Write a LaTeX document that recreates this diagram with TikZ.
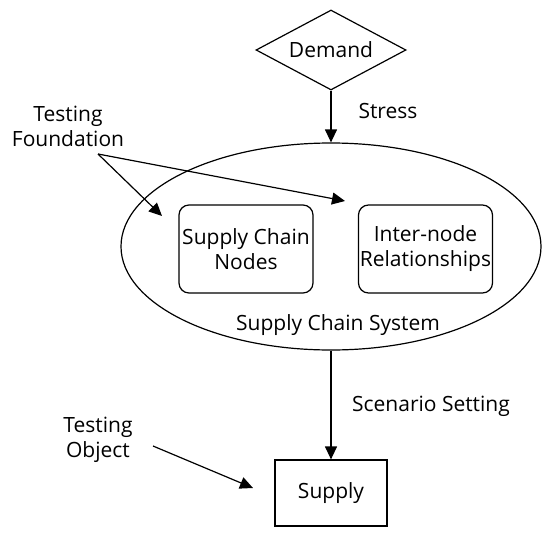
\documentclass[tikz,border=0pt]{standalone}
\usepackage{fontspec}
\setmainfont{Open Sans}
\usetikzlibrary{shapes.geometric,arrows.meta}
\begin{document}
\begin{tikzpicture}[x=1pt,y=-1pt,line width=1.2pt,
  txt/.style={font=\fontsize{21}{25}\selectfont},
  lbl/.style={txt,inner sep=0pt,align=center},
  arr/.style={-{Triangle[length=13pt,width=12pt]}},
  rbox/.style={draw,rounded corners=10pt,minimum width=134pt,minimum height=88pt,align=center,inner sep=0pt,txt}]
\useasboundingbox (0,0) rectangle (550,536);
\node[diamond,draw,aspect=1.875,inner sep=0pt,minimum width=150pt,minimum height=80pt,txt] (demand) at (331,50) {Demand};
\node[ellipse,draw,minimum width=420pt,minimum height=207pt] (sys) at (331,246.5) {};
\node[rbox] (scn) at (246,249) {Supply Chain\\Nodes};
\node[rbox] (inr) at (425.5,249) {Inter-node\\Relationships};
\node[txt,inner sep=0pt] (syslbl) at (338,325) {Supply Chain System};
\node[draw,minimum width=112pt,minimum height=66pt,txt] (supply) at (331,493) {Supply};
\node[lbl] (stress) at (388,111) {Stress};
\node[lbl] (scen) at (431,406) {Scenario Setting};
\node[lbl] (tf) at (68,126) {Testing\\Foundation};
\node[lbl] (to) at (98,440) {Testing\\Object};
\coordinate (tfv) at (98,154);
\coordinate (tip1) at (162,216);
\coordinate (tip2) at (345,201);
\coordinate (tos) at (153,446);
\coordinate (toe) at (253,488);
\draw[arr] (tfv) -- (tip1);
\draw[arr] (tfv) -- (tip2);
\draw[arr] (demand.south) -- (sys.north);
\draw[arr] (sys.south) -- (supply.north);
\draw[arr] (tos) -- (toe);
\end{tikzpicture}
\end{document}
